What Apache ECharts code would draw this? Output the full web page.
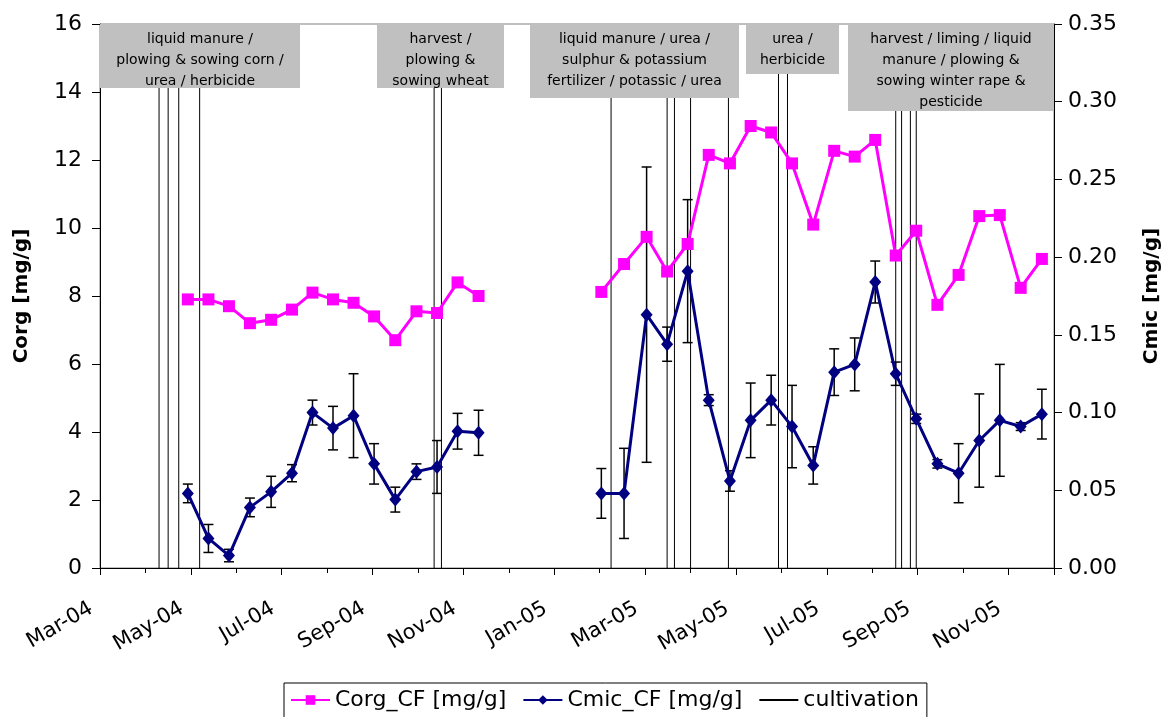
<!DOCTYPE html>
<html>
<head>
<meta charset="utf-8">
<script src="https://cdn.jsdelivr.net/npm/echarts@6/dist/echarts.min.js"></script>
<style>
  html, body { margin: 0; padding: 0; background: #fff; }
  #main { width: 1170px; height: 717px; }
</style>
</head>
<body>
<div id="main"></div>
<script>
    // sampling dates and values
    var dates2004 = ['2004-04-29', '2004-05-13', '2004-05-27', '2004-06-10', '2004-06-24', '2004-07-08', '2004-07-22',
        '2004-08-05', '2004-08-19', '2004-09-02', '2004-09-16', '2004-09-30', '2004-10-14', '2004-10-28', '2004-11-11'];
    var corg2004 = [7.9, 7.9, 7.7, 7.2, 7.3, 7.6, 8.1, 7.9, 7.8, 7.4, 6.7, 7.55, 7.5, 8.4, 8.0];
    var cmic2004 = [0.048, 0.019, 0.008, 0.039, 0.049, 0.061, 0.100, 0.090, 0.098, 0.067, 0.044, 0.062, 0.065, 0.088, 0.087];
    var cmicSd2004 = [0.006, 0.009, 0.004, 0.006, 0.010, 0.0055, 0.008, 0.014, 0.027, 0.013, 0.008, 0.005, 0.017, 0.0115, 0.0145];

    var dates2005 = ['2005-02-02', '2005-02-16', '2005-03-02', '2005-03-16', '2005-03-30', '2005-04-13', '2005-04-27',
        '2005-05-11', '2005-05-25', '2005-06-08', '2005-06-22', '2005-07-06', '2005-07-20', '2005-08-03', '2005-08-17',
        '2005-08-31', '2005-09-14', '2005-09-28', '2005-10-12', '2005-10-26', '2005-11-09', '2005-11-23'];
    var corg2005 = [8.12, 8.94, 9.74, 8.72, 9.53, 12.15, 11.9, 13.0, 12.81, 11.9, 10.1, 12.27, 12.1, 12.59, 9.19,
        9.92, 7.74, 8.62, 10.35, 10.38, 8.24, 9.09];
    var cmic2005 = [0.048, 0.048, 0.163, 0.144, 0.191, 0.108, 0.056, 0.095, 0.108, 0.091, 0.066, 0.126, 0.131, 0.184,
        0.125, 0.096, 0.067, 0.061, 0.082, 0.095, 0.091, 0.099];
    var cmicSd2005 = [0.016, 0.029, 0.095, 0.011, 0.046, 0.0035, 0.0066, 0.024, 0.016, 0.0265, 0.012, 0.015, 0.017,
        0.0135, 0.0075, 0.003, 0.0027, 0.019, 0.030, 0.036, 0.0025, 0.016];

    // cultivation events (vertical lines)
    var cultivationDates = ['2004-04-10', '2004-04-16', '2004-04-23', '2004-05-07', '2004-10-12', '2004-10-17',
        '2005-02-08', '2005-03-16', '2005-03-21', '2005-04-01', '2005-04-26', '2005-05-30', '2005-06-05',
        '2005-08-17', '2005-08-21', '2005-08-27', '2005-08-31'];

    var tickLabels = ['Mar-04', 'May-04', 'Jul-04', 'Sep-04', 'Nov-04', 'Jan-05', 'Mar-05', 'May-05', 'Jul-05', 'Sep-05', 'Nov-05'];

    var annotationTexts = [
        'liquid manure /\nplowing & sowing corn /\nurea / herbicide',
        'harvest /\nplowing &\nsowing wheat',
        'liquid manure / urea /\nsulphur & potassium\nfertilizer / potassic / urea',
        'urea /\nherbicide',
        'harvest / liming / liquid\nmanure / plowing &\nsowing winter rape &\npesticide'
    ];

    // date -> months since 1 Mar 2004
    function toMonth(s) {
        var p = s.split('-');
        var y = +p[0], m = +p[1], d = +p[2];
        var days = new Date(y, m, 0).getDate();
        return (y - 2004) * 12 + (m - 3) + (d - 1) / days;
    }

    function pairs(dates, vals) {
        var out = [];
        for (var i = 0; i < dates.length; i++) {
            out.push([toMonth(dates[i]), vals[i]]);
        }
        return out;
    }

    var corgData = pairs(dates2004, corg2004).concat([[10, null]], pairs(dates2005, corg2005));
    var cmicData = pairs(dates2004, cmic2004).concat([[10, null]], pairs(dates2005, cmic2005));

    var errData = [];
    var allDates = dates2004.concat(dates2005);
    var allCmic = cmic2004.concat(cmic2005);
    var allSd = cmicSd2004.concat(cmicSd2005);
    for (var i = 0; i < allDates.length; i++) {
        errData.push([toMonth(allDates[i]), allCmic[i] - allSd[i], allCmic[i] + allSd[i]]);
    }

    var cultData = [];
    for (var i = 0; i < cultivationDates.length; i++) {
        var x = toMonth(cultivationDates[i]);
        cultData.push([x, 0], [x, 15], [x, null]);
    }

    var font = 'DejaVu Sans';
    var chart = echarts.init(document.getElementById('main'));

    // grey annotation boxes on top of the plot
    var boxes = [
        {x: 100, y: 24, w: 200, h: 64},
        {x: 377, y: 24, w: 127, h: 64},
        {x: 530, y: 24, w: 209, h: 74},
        {x: 746, y: 24, w: 93, h: 50},
        {x: 848, y: 24, w: 206, h: 87}
    ];
    var graphics = [];
    boxes.forEach(function (b, i) {
        graphics.push({
            type: 'rect', z: 100,
            shape: {x: b.x, y: b.y, width: b.w, height: b.h},
            style: {fill: '#c0c0c0'}
        });
        graphics.push({
            type: 'text', z: 101,
            x: b.x + b.w / 2, y: b.y + 5,
            style: {
                text: annotationTexts[i], fill: '#000',
                font: '14px "DejaVu Sans"', fontSize: 14, fontFamily: font,
                align: 'center', textAlign: 'center', verticalAlign: 'top', textVerticalAlign: 'top',
                lineHeight: 21
            }
        });
    });

    var option = {
        animation: false,
        backgroundColor: '#fff',
        textStyle: {fontFamily: font, color: '#000'},
        grid: {left: 100, right: 116, top: 24, bottom: 149, show: true, borderColor: '#808080', borderWidth: 1},
        legend: {
            left: 284, top: 683,
            padding: [6, 8, 8, 6],
            borderColor: '#000', borderWidth: 1,
            itemWidth: 39, itemHeight: 12, itemGap: 16,
            textStyle: {fontSize: 22, fontFamily: font, color: '#000'},
            data: ['Corg_CF [mg/g]', 'Cmic_CF [mg/g]', {name: 'cultivation', itemStyle: {opacity: 0}}]
        },
        xAxis: {
            type: 'value', min: 0, max: 21, interval: 2,
            axisLine: {lineStyle: {color: '#000', width: 1}},
            axisTick: {length: 7, lineStyle: {color: '#000'}},
            minorTick: {show: true, splitNumber: 2, length: 5, lineStyle: {color: '#000'}},
            splitLine: {show: false},
            axisLabel: {
                rotate: 30, margin: 34, padding: [0, 10, 0, 0], fontSize: 21, color: '#000', fontFamily: font,
                formatter: function (v) { return tickLabels[Math.round(v / 2)] || ''; }
            }
        },
        yAxis: [{
            type: 'value', min: 0, max: 16, interval: 2,
            name: 'Corg [mg/g]', nameLocation: 'middle', nameRotate: 90, nameGap: 68,
            nameTextStyle: {fontSize: 20, fontWeight: 'bold', fontFamily: font, color: '#000'},
            axisLine: {show: true, lineStyle: {color: '#000'}},
            axisTick: {show: true, length: 8, lineStyle: {color: '#000'}},
            axisLabel: {fontSize: 22, margin: 18, color: '#000', fontFamily: font},
            splitLine: {show: false}
        }, {
            type: 'value', min: 0, max: 0.35, interval: 0.05, position: 'right',
            name: 'Cmic [mg/g]', nameLocation: 'middle', nameRotate: 90, nameGap: 88,
            nameTextStyle: {fontSize: 20, fontWeight: 'bold', fontFamily: font, color: '#000'},
            axisLine: {show: true, lineStyle: {color: '#000'}},
            axisTick: {show: true, length: 8, lineStyle: {color: '#000'}},
            axisLabel: {fontSize: 22, margin: 14, color: '#000', fontFamily: font,
                formatter: function (v) { return v.toFixed(2); }},
            splitLine: {show: false}
        }],
        series: [{
            name: 'cultivation',
            type: 'line',
            yAxisIndex: 0,
            data: cultData,
            symbol: 'none',
            connectNulls: false,
            z: 1,
            lineStyle: {color: '#000', width: 1},
            itemStyle: {color: '#000'}
        }, {
            name: 'Corg_CF [mg/g]',
            type: 'line',
            yAxisIndex: 0,
            data: corgData,
            symbol: 'rect',
            symbolSize: 12,
            connectNulls: false,
            z: 4,
            lineStyle: {color: '#ff00ff', width: 3},
            itemStyle: {color: '#ff00ff'}
        }, {
            name: 'err',
            type: 'custom',
            yAxisIndex: 1,
            data: errData,
            z: 3,
            encode: {x: 0, y: [1, 2]},
            renderItem: function (params, api) {
                var top = api.coord([api.value(0), api.value(2)]);
                var bot = api.coord([api.value(0), api.value(1)]);
                var hw = 5;
                var st = {stroke: '#000', lineWidth: 1.5};
                return {
                    type: 'group',
                    children: [
                        {type: 'line', shape: {x1: top[0], y1: top[1], x2: bot[0], y2: bot[1]}, style: st},
                        {type: 'line', shape: {x1: top[0] - hw, y1: top[1], x2: top[0] + hw, y2: top[1]}, style: st},
                        {type: 'line', shape: {x1: bot[0] - hw, y1: bot[1], x2: bot[0] + hw, y2: bot[1]}, style: st}
                    ]
                };
            }
        }, {
            name: 'Cmic_CF [mg/g]',
            type: 'line',
            yAxisIndex: 1,
            data: cmicData,
            symbol: 'diamond',
            symbolSize: [12, 14],
            connectNulls: false,
            z: 5,
            lineStyle: {color: '#000080', width: 3},
            itemStyle: {color: '#000080'}
        }],
        graphic: graphics
    };

    chart.setOption(option);
</script>
</body>
</html>
